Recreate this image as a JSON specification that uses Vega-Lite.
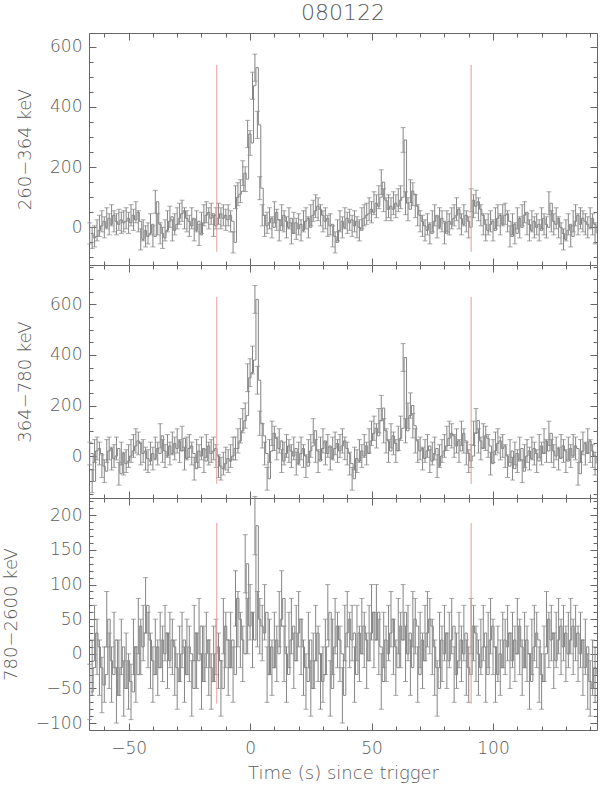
{
"$schema":"https://vega.github.io/schema/vega-lite/v6.json",
"background":"white",
"padding":{"left":1,"top":1,"right":5,"bottom":5},
"spacing":0,
"bounds":"flush",
"datasets":{
"refs":[{"t":-13.7},{"t":91}],
"bins":[
{"t":-66,"a":-20,"ea":35,"b":10,"eb":45,"c":-55,"ec":40},
{"t":-65,"a":-35,"ea":35,"b":-100,"eb":45,"c":-20,"ec":40},
{"t":-64,"a":-30,"ea":35,"b":20,"eb":45,"c":30,"ec":40},
{"t":-63,"a":-10,"ea":35,"b":30,"eb":45,"c":10,"ec":40},
{"t":-62,"a":5,"ea":35,"b":10,"eb":45,"c":-20,"ec":40},
{"t":-61,"a":20,"ea":35,"b":-40,"eb":45,"c":-45,"ec":40},
{"t":-60,"a":0,"ea":35,"b":-60,"eb":45,"c":-30,"ec":40},
{"t":-59,"a":30,"ea":35,"b":20,"eb":45,"c":50,"ec":40},
{"t":-58,"a":10,"ea":35,"b":30,"eb":45,"c":-10,"ec":40},
{"t":-57,"a":40,"ea":35,"b":-10,"eb":45,"c":-30,"ec":40},
{"t":-56,"a":20,"ea":35,"b":0,"eb":45,"c":20,"ec":40},
{"t":-55,"a":10,"ea":35,"b":30,"eb":45,"c":-60,"ec":40},
{"t":-54,"a":25,"ea":35,"b":-70,"eb":45,"c":-20,"ec":40},
{"t":-53,"a":15,"ea":35,"b":10,"eb":45,"c":10,"ec":40},
{"t":-52,"a":20,"ea":35,"b":-30,"eb":45,"c":-50,"ec":40},
{"t":-51,"a":30,"ea":35,"b":-20,"eb":45,"c":-10,"ec":40},
{"t":-50,"a":15,"ea":35,"b":0,"eb":45,"c":-40,"ec":40},
{"t":-49,"a":40,"ea":35,"b":20,"eb":45,"c":-55,"ec":40},
{"t":-48,"a":25,"ea":35,"b":40,"eb":45,"c":10,"ec":40},
{"t":-47,"a":50,"ea":35,"b":60,"eb":48,"c":-30,"ec":40},
{"t":-46,"a":20,"ea":35,"b":50,"eb":45,"c":40,"ec":40},
{"t":-45,"a":-40,"ea":35,"b":10,"eb":45,"c":10,"ec":40},
{"t":-44,"a":-10,"ea":35,"b":20,"eb":45,"c":30,"ec":40},
{"t":-43,"a":-30,"ea":35,"b":-10,"eb":45,"c":70,"ec":40},
{"t":-42,"a":-20,"ea":35,"b":-20,"eb":45,"c":20,"ec":40},
{"t":-41,"a":10,"ea":35,"b":10,"eb":45,"c":-10,"ec":40},
{"t":-40,"a":-30,"ea":35,"b":-10,"eb":45,"c":-30,"ec":40},
{"t":-39,"a":85,"ea":38,"b":30,"eb":45,"c":10,"ec":40},
{"t":-38,"a":10,"ea":35,"b":10,"eb":45,"c":-20,"ec":40},
{"t":-37,"a":-20,"ea":35,"b":80,"eb":48,"c":20,"ec":40},
{"t":-36,"a":-35,"ea":35,"b":20,"eb":45,"c":0,"ec":40},
{"t":-35,"a":-10,"ea":35,"b":0,"eb":45,"c":30,"ec":40},
{"t":-34,"a":20,"ea":35,"b":40,"eb":45,"c":-10,"ec":40},
{"t":-33,"a":35,"ea":35,"b":10,"eb":45,"c":20,"ec":40},
{"t":-32,"a":-10,"ea":35,"b":50,"eb":45,"c":10,"ec":40},
{"t":-31,"a":10,"ea":35,"b":30,"eb":45,"c":-20,"ec":40},
{"t":-30,"a":30,"ea":35,"b":60,"eb":48,"c":-40,"ec":40},
{"t":-29,"a":45,"ea":35,"b":20,"eb":45,"c":0,"ec":40},
{"t":-28,"a":55,"ea":35,"b":70,"eb":48,"c":20,"ec":40},
{"t":-27,"a":30,"ea":35,"b":-10,"eb":45,"c":-30,"ec":40},
{"t":-26,"a":20,"ea":35,"b":30,"eb":45,"c":10,"ec":40},
{"t":-25,"a":5,"ea":35,"b":40,"eb":45,"c":0,"ec":40},
{"t":-24,"a":30,"ea":35,"b":10,"eb":45,"c":-50,"ec":40},
{"t":-23,"a":-10,"ea":35,"b":-50,"eb":45,"c":30,"ec":40},
{"t":-22,"a":20,"ea":35,"b":20,"eb":45,"c":-10,"ec":40},
{"t":-21,"a":-25,"ea":35,"b":0,"eb":45,"c":40,"ec":40},
{"t":-20,"a":15,"ea":35,"b":30,"eb":45,"c":-40,"ec":40},
{"t":-19,"a":40,"ea":35,"b":-20,"eb":45,"c":0,"ec":40},
{"t":-18,"a":50,"ea":35,"b":40,"eb":45,"c":20,"ec":40},
{"t":-17,"a":30,"ea":35,"b":10,"eb":45,"c":-20,"ec":40},
{"t":-16,"a":45,"ea":35,"b":20,"eb":45,"c":-40,"ec":40},
{"t":-15,"a":5,"ea":35,"b":30,"eb":45,"c":0,"ec":40},
{"t":-14,"a":30,"ea":35,"b":0,"eb":45,"c":10,"ec":40},
{"t":-13,"a":45,"ea":35,"b":-40,"eb":45,"c":-10,"ec":40},
{"t":-12,"a":30,"ea":35,"b":-50,"eb":45,"c":-50,"ec":40},
{"t":-11,"a":40,"ea":35,"b":-30,"eb":45,"c":40,"ec":40},
{"t":-10,"a":25,"ea":35,"b":-10,"eb":45,"c":20,"ec":40},
{"t":-9,"a":40,"ea":35,"b":-20,"eb":45,"c":-20,"ec":40},
{"t":-8,"a":20,"ea":35,"b":0,"eb":45,"c":20,"ec":40},
{"t":-7,"a":-50,"ea":35,"b":30,"eb":45,"c":-30,"ec":40},
{"t":-6,"a":100,"ea":38,"b":30,"eb":45,"c":80,"ec":40},
{"t":-5,"a":110,"ea":38,"b":60,"eb":48,"c":50,"ec":40},
{"t":-4,"a":120,"ea":38,"b":100,"eb":48,"c":20,"ec":40},
{"t":-3,"a":180,"ea":41,"b":140,"eb":48,"c":0,"ec":40},
{"t":-2,"a":160,"ea":41,"b":160,"eb":50,"c":130,"ec":42},
{"t":-1,"a":310,"ea":45,"b":310,"eb":55,"c":40,"ec":40},
{"t":0,"a":280,"ea":41,"b":330,"eb":55,"c":60,"ec":40},
{"t":1,"a":470,"ea":45,"b":380,"eb":55,"c":20,"ec":40},
{"t":2,"a":530,"ea":45,"b":620,"eb":55,"c":185,"ec":42},
{"t":3,"a":340,"ea":45,"b":300,"eb":55,"c":50,"ec":40},
{"t":4,"a":130,"ea":38,"b":130,"eb":48,"c":40,"ec":40},
{"t":5,"a":40,"ea":35,"b":80,"eb":48,"c":30,"ec":40},
{"t":6,"a":5,"ea":35,"b":10,"eb":45,"c":60,"ec":40},
{"t":7,"a":15,"ea":35,"b":-90,"eb":45,"c":-30,"ec":40},
{"t":8,"a":30,"ea":35,"b":20,"eb":45,"c":10,"ec":40},
{"t":9,"a":0,"ea":35,"b":90,"eb":48,"c":-20,"ec":40},
{"t":10,"a":50,"ea":35,"b":70,"eb":48,"c":20,"ec":40},
{"t":11,"a":25,"ea":35,"b":30,"eb":45,"c":0,"ec":40},
{"t":12,"a":-10,"ea":35,"b":60,"eb":48,"c":50,"ec":40},
{"t":13,"a":40,"ea":35,"b":-20,"eb":45,"c":80,"ec":40},
{"t":14,"a":20,"ea":35,"b":10,"eb":45,"c":0,"ec":40},
{"t":15,"a":0,"ea":35,"b":40,"eb":45,"c":-30,"ec":40},
{"t":16,"a":30,"ea":35,"b":20,"eb":45,"c":20,"ec":40},
{"t":17,"a":-20,"ea":35,"b":0,"eb":45,"c":40,"ec":40},
{"t":18,"a":15,"ea":35,"b":30,"eb":45,"c":-10,"ec":40},
{"t":19,"a":-5,"ea":35,"b":-30,"eb":45,"c":30,"ec":40},
{"t":20,"a":10,"ea":35,"b":10,"eb":45,"c":50,"ec":40},
{"t":21,"a":-10,"ea":35,"b":30,"eb":45,"c":10,"ec":40},
{"t":22,"a":20,"ea":35,"b":0,"eb":45,"c":-20,"ec":40},
{"t":23,"a":30,"ea":35,"b":-40,"eb":45,"c":-40,"ec":40},
{"t":24,"a":0,"ea":35,"b":20,"eb":45,"c":20,"ec":40},
{"t":25,"a":40,"ea":35,"b":40,"eb":45,"c":-50,"ec":40},
{"t":26,"a":55,"ea":35,"b":100,"eb":48,"c":-10,"ec":40},
{"t":27,"a":70,"ea":38,"b":20,"eb":45,"c":30,"ec":40},
{"t":28,"a":60,"ea":38,"b":-20,"eb":45,"c":0,"ec":40},
{"t":29,"a":40,"ea":35,"b":30,"eb":45,"c":-40,"ec":40},
{"t":30,"a":20,"ea":35,"b":60,"eb":48,"c":-30,"ec":40},
{"t":31,"a":30,"ea":35,"b":10,"eb":45,"c":10,"ec":40},
{"t":32,"a":5,"ea":35,"b":40,"eb":45,"c":60,"ec":40},
{"t":33,"a":10,"ea":35,"b":-10,"eb":45,"c":-50,"ec":40},
{"t":34,"a":-30,"ea":35,"b":30,"eb":45,"c":10,"ec":40},
{"t":35,"a":-50,"ea":35,"b":50,"eb":45,"c":40,"ec":40},
{"t":36,"a":-10,"ea":35,"b":20,"eb":45,"c":20,"ec":40},
{"t":37,"a":20,"ea":35,"b":40,"eb":45,"c":0,"ec":40},
{"t":38,"a":0,"ea":35,"b":60,"eb":48,"c":-60,"ec":40},
{"t":39,"a":30,"ea":35,"b":30,"eb":45,"c":30,"ec":40},
{"t":40,"a":15,"ea":35,"b":10,"eb":45,"c":50,"ec":40},
{"t":41,"a":25,"ea":35,"b":-30,"eb":45,"c":20,"ec":40},
{"t":42,"a":5,"ea":35,"b":-90,"eb":45,"c":30,"ec":40},
{"t":43,"a":20,"ea":35,"b":-10,"eb":45,"c":-30,"ec":40},
{"t":44,"a":0,"ea":35,"b":-20,"eb":45,"c":30,"ec":40},
{"t":45,"a":-10,"ea":35,"b":20,"eb":45,"c":0,"ec":40},
{"t":46,"a":30,"ea":35,"b":0,"eb":45,"c":40,"ec":40},
{"t":47,"a":40,"ea":35,"b":40,"eb":45,"c":20,"ec":40},
{"t":48,"a":45,"ea":35,"b":10,"eb":45,"c":-10,"ec":40},
{"t":49,"a":60,"ea":38,"b":60,"eb":48,"c":30,"ec":40},
{"t":50,"a":50,"ea":35,"b":90,"eb":48,"c":60,"ec":40},
{"t":51,"a":80,"ea":38,"b":110,"eb":48,"c":20,"ec":40},
{"t":52,"a":70,"ea":38,"b":80,"eb":48,"c":60,"ec":40},
{"t":53,"a":100,"ea":38,"b":140,"eb":48,"c":10,"ec":40},
{"t":54,"a":150,"ea":41,"b":190,"eb":50,"c":-40,"ec":40},
{"t":55,"a":90,"ea":38,"b":100,"eb":48,"c":20,"ec":40},
{"t":56,"a":60,"ea":38,"b":60,"eb":48,"c":0,"ec":40},
{"t":57,"a":70,"ea":38,"b":20,"eb":45,"c":30,"ec":40},
{"t":58,"a":60,"ea":38,"b":80,"eb":48,"c":50,"ec":40},
{"t":59,"a":80,"ea":38,"b":50,"eb":45,"c":10,"ec":40},
{"t":60,"a":70,"ea":38,"b":20,"eb":45,"c":-20,"ec":40},
{"t":61,"a":90,"ea":38,"b":70,"eb":48,"c":40,"ec":40},
{"t":62,"a":100,"ea":38,"b":110,"eb":48,"c":20,"ec":40},
{"t":63,"a":290,"ea":41,"b":390,"eb":55,"c":60,"ec":40},
{"t":64,"a":80,"ea":38,"b":100,"eb":48,"c":0,"ec":40},
{"t":65,"a":60,"ea":38,"b":160,"eb":50,"c":30,"ec":40},
{"t":66,"a":120,"ea":38,"b":200,"eb":50,"c":-20,"ec":40},
{"t":67,"a":110,"ea":38,"b":120,"eb":48,"c":50,"ec":40},
{"t":68,"a":70,"ea":38,"b":60,"eb":48,"c":40,"ec":40},
{"t":69,"a":40,"ea":35,"b":20,"eb":45,"c":-30,"ec":40},
{"t":70,"a":20,"ea":35,"b":30,"eb":45,"c":20,"ec":40},
{"t":71,"a":5,"ea":35,"b":-10,"eb":45,"c":-10,"ec":40},
{"t":72,"a":-10,"ea":35,"b":20,"eb":45,"c":30,"ec":40},
{"t":73,"a":10,"ea":35,"b":40,"eb":45,"c":50,"ec":40},
{"t":74,"a":-20,"ea":35,"b":-20,"eb":45,"c":40,"ec":40},
{"t":75,"a":20,"ea":35,"b":10,"eb":45,"c":10,"ec":40},
{"t":76,"a":40,"ea":35,"b":30,"eb":45,"c":-20,"ec":40},
{"t":77,"a":0,"ea":35,"b":-40,"eb":45,"c":-50,"ec":40},
{"t":78,"a":30,"ea":35,"b":0,"eb":45,"c":20,"ec":40},
{"t":79,"a":20,"ea":35,"b":20,"eb":45,"c":0,"ec":40},
{"t":80,"a":-20,"ea":35,"b":40,"eb":45,"c":30,"ec":40},
{"t":81,"a":20,"ea":35,"b":70,"eb":48,"c":-10,"ec":40},
{"t":82,"a":10,"ea":35,"b":90,"eb":48,"c":20,"ec":40},
{"t":83,"a":30,"ea":35,"b":80,"eb":48,"c":40,"ec":40},
{"t":84,"a":40,"ea":35,"b":40,"eb":45,"c":-30,"ec":40},
{"t":85,"a":60,"ea":38,"b":60,"eb":48,"c":-10,"ec":40},
{"t":86,"a":30,"ea":35,"b":20,"eb":45,"c":20,"ec":40},
{"t":87,"a":10,"ea":35,"b":90,"eb":48,"c":0,"ec":40},
{"t":88,"a":40,"ea":35,"b":60,"eb":48,"c":30,"ec":40},
{"t":89,"a":20,"ea":35,"b":10,"eb":45,"c":-20,"ec":40},
{"t":90,"a":0,"ea":35,"b":-20,"eb":45,"c":-30,"ec":40},
{"t":91,"a":90,"ea":38,"b":0,"eb":45,"c":40,"ec":40},
{"t":92,"a":70,"ea":38,"b":90,"eb":48,"c":30,"ec":40},
{"t":93,"a":85,"ea":38,"b":140,"eb":48,"c":0,"ec":40},
{"t":94,"a":60,"ea":38,"b":60,"eb":48,"c":-20,"ec":40},
{"t":95,"a":40,"ea":35,"b":30,"eb":45,"c":10,"ec":40},
{"t":96,"a":10,"ea":35,"b":80,"eb":48,"c":30,"ec":40},
{"t":97,"a":-10,"ea":35,"b":70,"eb":48,"c":-30,"ec":40},
{"t":98,"a":10,"ea":35,"b":40,"eb":45,"c":20,"ec":40},
{"t":99,"a":20,"ea":35,"b":-30,"eb":45,"c":40,"ec":40},
{"t":100,"a":-10,"ea":35,"b":20,"eb":45,"c":10,"ec":40},
{"t":101,"a":30,"ea":35,"b":50,"eb":45,"c":-30,"ec":40},
{"t":102,"a":40,"ea":35,"b":60,"eb":48,"c":0,"ec":40},
{"t":103,"a":10,"ea":35,"b":30,"eb":45,"c":-20,"ec":40},
{"t":104,"a":40,"ea":35,"b":40,"eb":45,"c":20,"ec":40},
{"t":105,"a":45,"ea":35,"b":0,"eb":45,"c":10,"ec":40},
{"t":106,"a":20,"ea":35,"b":-40,"eb":45,"c":30,"ec":40},
{"t":107,"a":-30,"ea":35,"b":20,"eb":45,"c":-10,"ec":40},
{"t":108,"a":10,"ea":35,"b":-50,"eb":45,"c":20,"ec":40},
{"t":109,"a":-20,"ea":35,"b":10,"eb":45,"c":0,"ec":40},
{"t":110,"a":30,"ea":35,"b":-20,"eb":45,"c":40,"ec":40},
{"t":111,"a":0,"ea":35,"b":30,"eb":45,"c":10,"ec":40},
{"t":112,"a":40,"ea":35,"b":-60,"eb":45,"c":-20,"ec":40},
{"t":113,"a":50,"ea":35,"b":0,"eb":45,"c":20,"ec":40},
{"t":114,"a":10,"ea":35,"b":20,"eb":45,"c":0,"ec":40},
{"t":115,"a":-10,"ea":35,"b":-10,"eb":45,"c":-40,"ec":40},
{"t":116,"a":20,"ea":35,"b":30,"eb":45,"c":10,"ec":40},
{"t":117,"a":0,"ea":35,"b":10,"eb":45,"c":30,"ec":40},
{"t":118,"a":10,"ea":35,"b":-20,"eb":45,"c":20,"ec":40},
{"t":119,"a":-10,"ea":35,"b":40,"eb":45,"c":-30,"ec":40},
{"t":120,"a":30,"ea":35,"b":10,"eb":45,"c":-40,"ec":40},
{"t":121,"a":10,"ea":35,"b":60,"eb":48,"c":0,"ec":40},
{"t":122,"a":0,"ea":35,"b":20,"eb":45,"c":50,"ec":40},
{"t":123,"a":80,"ea":38,"b":90,"eb":48,"c":20,"ec":40},
{"t":124,"a":20,"ea":35,"b":20,"eb":45,"c":30,"ec":40},
{"t":125,"a":10,"ea":35,"b":0,"eb":45,"c":-10,"ec":40},
{"t":126,"a":30,"ea":35,"b":30,"eb":45,"c":20,"ec":40},
{"t":127,"a":0,"ea":35,"b":-10,"eb":45,"c":40,"ec":40},
{"t":128,"a":-20,"ea":35,"b":40,"eb":45,"c":10,"ec":40},
{"t":129,"a":-40,"ea":35,"b":20,"eb":45,"c":30,"ec":40},
{"t":130,"a":-10,"ea":35,"b":-20,"eb":45,"c":0,"ec":40},
{"t":131,"a":10,"ea":35,"b":30,"eb":45,"c":20,"ec":40},
{"t":132,"a":-30,"ea":35,"b":0,"eb":45,"c":40,"ec":40},
{"t":133,"a":20,"ea":35,"b":40,"eb":45,"c":10,"ec":40},
{"t":134,"a":40,"ea":35,"b":30,"eb":45,"c":30,"ec":40},
{"t":135,"a":10,"ea":35,"b":-70,"eb":45,"c":0,"ec":40},
{"t":136,"a":30,"ea":35,"b":20,"eb":45,"c":20,"ec":40},
{"t":137,"a":20,"ea":35,"b":50,"eb":45,"c":-20,"ec":40},
{"t":138,"a":10,"ea":35,"b":10,"eb":45,"c":10,"ec":40},
{"t":139,"a":0,"ea":35,"b":60,"eb":48,"c":-40,"ec":40},
{"t":140,"a":30,"ea":35,"b":20,"eb":45,"c":-50,"ec":40},
{"t":141,"a":10,"ea":35,"b":0,"eb":45,"c":-20,"ec":40},
{"t":142,"a":-20,"ea":35,"b":-30,"eb":45,"c":-30,"ec":40}
]},
"config":{
"view":{"stroke":"#666666","strokeWidth":1},
"axis":{"grid":false,"domain":false,"labelFont":"DejaVu Sans","titleFont":"DejaVu Sans","labelColor":"#5a5a5a","titleColor":"#5a5a5a","labelFontSize":17,"titleFontSize":18,"labelFontWeight":200,"titleFontWeight":200,"tickColor":"#666666","tickWidth":1}
},
"vconcat":[
{"width":508,"height":232,
"title":{"text":"080122","font":"DejaVu Sans","fontSize":22,"fontWeight":200,"color":"#5a5a5a","offset":8,"anchor":"middle","frame":"group"},
"layer":[
{"data":{"name":"bins"},"mark":{"type":"line","interpolate":"step-after","color":"#858585","strokeWidth":1,"xOffset":1},
"encoding":{
"x":{"field":"t","type":"quantitative","scale":{"domain":[-66.3,142.8],"nice":false,"zero":false},"axis":{"orient":"bottom","values":[-50,0,50,100],"tickSize":-7,"labels":false,"title":null}},
"y":{"field":"a","type":"quantitative","scale":{"domain":[-125,645],"nice":false,"zero":false},"axis":{"orient":"left","values":[0,200,400,600],"tickSize":-7,"labelPadding":14,"title":"260−364 keV","titlePadding":15}}}},
{"data":{"name":"bins"},"mark":{"type":"errorbar","ticks":true,"color":"#858585","thickness":1,"size":5},
"encoding":{
"x":{"field":"t","type":"quantitative","axis":{"orient":"top","values":[-50,0,50,100],"tickSize":-7,"labels":false,"title":null}},
"y":{"field":"a","type":"quantitative","axis":{"orient":"right","values":[0,200,400,600],"tickSize":-7,"labels":false,"title":null}},
"yError":{"field":"ea"}}},
{"data":{"name":"refs"},"transform":[{"filter":"datum.t < 0"}],"mark":{"type":"rule","color":"#e89a9a","strokeWidth":1},
"encoding":{
"x":{"field":"t","type":"quantitative","axis":{"orient":"bottom","values":[-60,-40,-30,-20,-10,10,20,30,40,60,70,80,90,110,120,130,140],"tickSize":-4,"labels":false,"title":null}},
"y":{"datum":-81,"type":"quantitative","axis":{"orient":"left","values":[-100,-50,50,100,150,250,300,350,450,500,550],"tickSize":-4,"labels":false,"title":null}},
"y2":{"datum":539}}},
{"data":{"name":"refs"},"transform":[{"filter":"datum.t > 0"}],"mark":{"type":"rule","color":"#e89a9a","strokeWidth":1},
"encoding":{
"x":{"field":"t","type":"quantitative","axis":{"orient":"top","values":[-60,-40,-30,-20,-10,10,20,30,40,60,70,80,90,110,120,130,140],"tickSize":-4,"labels":false,"title":null}},
"y":{"datum":-81,"type":"quantitative","axis":{"orient":"right","values":[-100,-50,50,100,150,250,300,350,450,500,550],"tickSize":-4,"labels":false,"title":null}},
"y2":{"datum":539}}}
],
"resolve":{"axis":{"x":"independent","y":"independent"}}},
{"width":508,"height":233,
"layer":[
{"data":{"name":"bins"},"mark":{"type":"line","interpolate":"step-after","color":"#858585","strokeWidth":1,"xOffset":1},
"encoding":{
"x":{"field":"t","type":"quantitative","scale":{"domain":[-66.3,142.8],"nice":false,"zero":false},"axis":{"orient":"bottom","values":[-50,0,50,100],"tickSize":-7,"labels":false,"title":null}},
"y":{"field":"b","type":"quantitative","scale":{"domain":[-166,756],"nice":false,"zero":false},"axis":{"orient":"left","values":[0,200,400,600],"tickSize":-7,"labelPadding":14,"title":"364−780 keV","titlePadding":15}}}},
{"data":{"name":"bins"},"mark":{"type":"errorbar","ticks":true,"color":"#858585","thickness":1,"size":5},
"encoding":{
"x":{"field":"t","type":"quantitative","axis":{"orient":"top","values":[-50,0,50,100],"tickSize":-7,"labels":false,"title":null}},
"y":{"field":"b","type":"quantitative","axis":{"orient":"right","values":[0,200,400,600],"tickSize":-7,"labels":false,"title":null}},
"yError":{"field":"eb"}}},
{"data":{"name":"refs"},"transform":[{"filter":"datum.t < 0"}],"mark":{"type":"rule","color":"#e89a9a","strokeWidth":1},
"encoding":{
"x":{"field":"t","type":"quantitative","axis":{"orient":"bottom","values":[-60,-40,-30,-20,-10,10,20,30,40,60,70,80,90,110,120,130,140],"tickSize":-4,"labels":false,"title":null}},
"y":{"datum":-110,"type":"quantitative","axis":{"orient":"left","values":[-150,-100,-50,50,100,150,250,300,350,450,500,550,650,700,750],"tickSize":-4,"labels":false,"title":null}},
"y2":{"datum":630}}},
{"data":{"name":"refs"},"transform":[{"filter":"datum.t > 0"}],"mark":{"type":"rule","color":"#e89a9a","strokeWidth":1},
"encoding":{
"x":{"field":"t","type":"quantitative","axis":{"orient":"top","values":[-60,-40,-30,-20,-10,10,20,30,40,60,70,80,90,110,120,130,140],"tickSize":-4,"labels":false,"title":null}},
"y":{"datum":-110,"type":"quantitative","axis":{"orient":"right","values":[-150,-100,-50,50,100,150,250,300,350,450,500,550,650,700,750],"tickSize":-4,"labels":false,"title":null}},
"y2":{"datum":630}}}
],
"resolve":{"axis":{"x":"independent","y":"independent"}}},
{"width":508,"height":232,
"layer":[
{"data":{"name":"bins"},"mark":{"type":"line","interpolate":"step-after","color":"#858585","strokeWidth":1,"xOffset":1},
"encoding":{
"x":{"field":"t","type":"quantitative","scale":{"domain":[-66.3,142.8],"nice":false,"zero":false},"axis":{"orient":"bottom","values":[-50,0,50,100],"tickSize":-7,"labelPadding":17,"title":"Time (s) since trigger","titlePadding":8}},
"y":{"field":"c","type":"quantitative","scale":{"domain":[-110,225],"nice":false,"zero":false},"axis":{"orient":"left","values":[-100,-50,0,50,100,150,200],"tickSize":-7,"labelPadding":14,"title":"780−2600 keV","titlePadding":15}}}},
{"data":{"name":"bins"},"mark":{"type":"errorbar","ticks":true,"color":"#858585","thickness":1,"size":5},
"encoding":{
"x":{"field":"t","type":"quantitative","axis":{"orient":"top","values":[-50,0,50,100],"tickSize":-7,"labels":false,"title":null}},
"y":{"field":"c","type":"quantitative","axis":{"orient":"right","values":[-100,-50,0,50,100,150,200],"tickSize":-7,"labels":false,"title":null}},
"yError":{"field":"ec"}}},
{"data":{"name":"refs"},"transform":[{"filter":"datum.t < 0"}],"mark":{"type":"rule","color":"#e89a9a","strokeWidth":1},
"encoding":{
"x":{"field":"t","type":"quantitative","axis":{"orient":"bottom","values":[-60,-40,-30,-20,-10,10,20,30,40,60,70,80,90,110,120,130,140],"tickSize":-4,"labels":false,"title":null}},
"y":{"datum":-72,"type":"quantitative","axis":{"orient":"left","values":[-90,-80,-70,-60,-40,-30,-20,-10,10,20,30,40,60,70,80,90,110,120,130,140,160,170,180,190,210,220],"tickSize":-4,"labels":false,"title":null}},
"y2":{"datum":189}}},
{"data":{"name":"refs"},"transform":[{"filter":"datum.t > 0"}],"mark":{"type":"rule","color":"#e89a9a","strokeWidth":1},
"encoding":{
"x":{"field":"t","type":"quantitative","axis":{"orient":"top","values":[-60,-40,-30,-20,-10,10,20,30,40,60,70,80,90,110,120,130,140],"tickSize":-4,"labels":false,"title":null}},
"y":{"datum":-72,"type":"quantitative","axis":{"orient":"right","values":[-90,-80,-70,-60,-40,-30,-20,-10,10,20,30,40,60,70,80,90,110,120,130,140,160,170,180,190,210,220],"tickSize":-4,"labels":false,"title":null}},
"y2":{"datum":189}}}
],
"resolve":{"axis":{"x":"independent","y":"independent"}}}
]
}
